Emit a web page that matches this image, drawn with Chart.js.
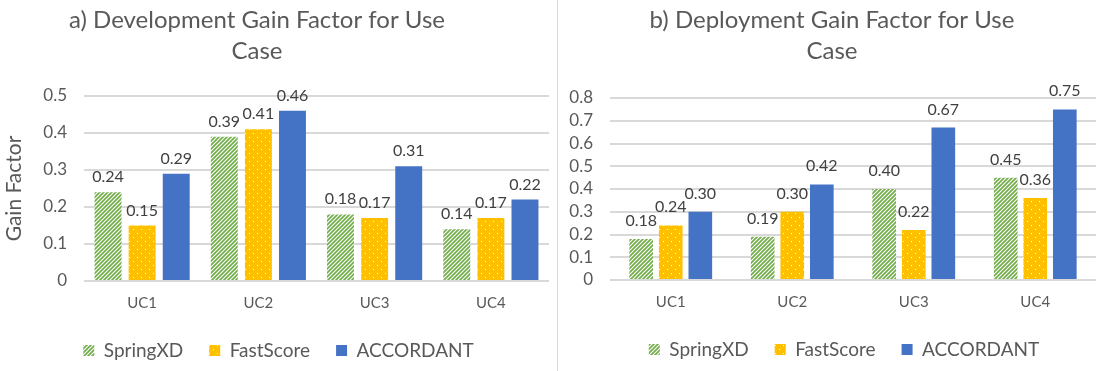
<!DOCTYPE html>
<html>
<head>
<meta charset="utf-8">
<script src="https://cdn.jsdelivr.net/npm/chart.js@4.4.1/dist/chart.umd.min.js"></script>
<style>
  html, body { margin: 0; padding: 0; background: #fff; }
  #wrap { display: flex; width: 1096px; height: 371px; }
  #left { width: 557px; height: 371px; border-right: 1px solid #d9d9d9; }
  #right { width: 538px; height: 371px; }
  canvas { display: block; }
</style>
</head>
<body>
<div id="wrap">
  <div id="left"><canvas id="chart-dev" width="557" height="371"></canvas></div>
  <div id="right"><canvas id="chart-dep" width="538" height="371"></canvas></div>
</div>
<script>
const useCases = ["UC1", "UC2", "UC3", "UC4"];
const seriesNames = ["SpringXD", "FastScore", "ACCORDANT"];

// a) development gain factor
const devSpringXD = [0.24, 0.39, 0.18, 0.14];
const devFastScore = [0.15, 0.41, 0.17, 0.17];
const devAccordant = [0.29, 0.46, 0.31, 0.22];

// b) deployment gain factor
const depSpringXD = [0.18, 0.19, 0.40, 0.45];
const depFastScore = [0.24, 0.30, 0.22, 0.36];
const depAccordant = [0.30, 0.42, 0.67, 0.75];

const devAxisMax = 0.5;
const depAxisMax = 0.8;

const FONT = "Lato, 'Open Sans', sans-serif";
Chart.defaults.font.family = FONT;
Chart.defaults.color = "#595959";

function stripePattern(color) {
  const c = document.createElement("canvas");
  c.width = 4;
  c.height = 4;
  const g = c.getContext("2d");
  g.fillStyle = "#fff";
  g.fillRect(0, 0, 4, 4);
  g.strokeStyle = color;
  g.lineWidth = 1.7;
  g.beginPath();
  g.moveTo(0, 4); g.lineTo(4, 0);
  g.moveTo(-1, 1); g.lineTo(1, -1);
  g.moveTo(3, 5); g.lineTo(5, 3);
  g.stroke();
  return g.createPattern(c, "repeat");
}

function dotPattern(color) {
  const c = document.createElement("canvas");
  c.width = 8;
  c.height = 8;
  const g = c.getContext("2d");
  g.fillStyle = color;
  g.fillRect(0, 0, 8, 8);
  g.fillStyle = "#fff";
  g.fillRect(1, 1, 1, 1);
  g.fillRect(5, 5, 1, 1);
  return g.createPattern(c, "repeat");
}

const springFill = stripePattern("#70ad47");
const fastFill = dotPattern("#ffc000");
const accordantFill = "#4472c4";

// value labels above each bar
const barValues = {
  id: "barValues",
  afterDatasetsDraw(chart, args, opts) {
    const ctx = chart.ctx;
    ctx.save();
    ctx.font = "16px " + FONT;
    ctx.fillStyle = "#404040";
    ctx.textAlign = "center";
    ctx.textBaseline = "alphabetic";
    chart.data.datasets.forEach((ds, i) => {
      chart.getDatasetMeta(i).data.forEach((bar, j) => {
        ctx.fillText(ds.data[j].toFixed(2), bar.x, bar.y - opts.gap);
      });
    });
    ctx.restore();
  },
};

// two-line title, centred where the original puts it
const panelTitle = {
  id: "panelTitle",
  afterDraw(chart, args, opts) {
    const ctx = chart.ctx;
    ctx.save();
    ctx.font = "24px " + FONT;
    ctx.fillStyle = "#595959";
    ctx.textAlign = "center";
    ctx.textBaseline = "alphabetic";
    opts.lines.forEach((line, i) => ctx.fillText(line, opts.x, opts.baselines[i]));
    ctx.restore();
  },
};

// nudge the legend sideways without touching the plot area
const legendShift = {
  id: "legendShift",
  afterLayout(chart, args, opts) {
    chart.legend.left += opts.dx;
    chart.legend.right += opts.dx;
  },
};

function makeChart(canvasId, cfg) {
  return new Chart(document.getElementById(canvasId), {
    type: "bar",
    data: {
      labels: useCases,
      datasets: [
        { label: seriesNames[0], data: cfg.values[0], backgroundColor: springFill },
        { label: seriesNames[1], data: cfg.values[1], backgroundColor: fastFill },
        { label: seriesNames[2], data: cfg.values[2], backgroundColor: accordantFill },
      ].map((d) => ({
        ...d,
        borderWidth: 0,
        categoryPercentage: cfg.catPct,
        barPercentage: cfg.barPct,
      })),
    },
    options: {
      responsive: false,
      animation: false,
      layout: { padding: cfg.padding },
      scales: {
        x: {
          grid: { display: false, drawTicks: false },
          border: { display: false },
          ticks: { padding: 13, font: { size: 15 }, color: "#595959" },
          afterFit: (s) => { s.height = 34; },
        },
        y: {
          min: 0,
          max: cfg.max,
          grid: { color: "#d9d9d9", lineWidth: 2, drawTicks: false },
          border: { display: false },
          ticks: {
            stepSize: 0.1,
            autoSkip: false,
            padding: 17,
            font: { size: 17 },
            color: "#595959",
            callback: (v) => (v === 0 ? "0" : v.toFixed(1)),
          },
          title: cfg.yTitle
            ? { display: true, text: cfg.yTitle, font: { size: 21, lineHeight: 1 }, color: "#595959", padding: { top: 4, bottom: 0 } }
            : { display: false },
          afterFit: (s) => { s.width = cfg.yWidth; },
        },
      },
      plugins: {
        legend: {
          position: "bottom",
          labels: { boxWidth: 11, boxHeight: 11, padding: 26, font: { size: 19 }, color: "#595959" },
        },
        tooltip: { enabled: false },
        barValues: { gap: cfg.labelGap },
        panelTitle: cfg.title,
        legendShift: { dx: cfg.legendDx },
      },
    },
    plugins: [barValues, panelTitle, legendShift],
  });
}

makeChart("chart-dev", {
  values: [devSpringXD, devFastScore, devAccordant],
  max: devAxisMax,
  catPct: 0.88,
  barPct: 0.79,
  yTitle: "Gain Factor",
  yWidth: 84,
  padding: { top: 96, right: 8, bottom: 1, left: 0 },
  labelGap: 10,
  legendDx: 4,
  title: { lines: ["a) Development Gain Factor for Use", "Case"], x: 257, baselines: [28, 59] },
});

makeChart("chart-dep", {
  values: [depSpringXD, depFastScore, depAccordant],
  max: depAxisMax,
  catPct: 0.73,
  barPct: 0.8,
  yTitle: null,
  yWidth: 52,
  padding: { top: 98, right: 0, bottom: 2, left: 0 },
  labelGap: 13,
  legendDx: 17,
  title: { lines: ["b) Deployment Gain Factor for Use", "Case"], x: 274, baselines: [28, 59] },
});
</script>
</body>
</html>
